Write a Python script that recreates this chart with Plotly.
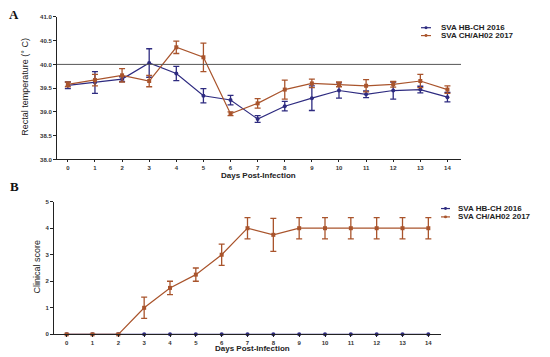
import plotly.graph_objects as go

days = list(range(15))
day_labels = [str(d) for d in days]

# Panel A: rectal temperature
temp_hb = [39.56, 39.62, 39.69, 40.03, 39.81, 39.34, 39.25, 38.85, 39.12, 39.29, 39.45, 39.37, 39.45, 39.47, 39.31]
temp_hb_err = [0.07, 0.23, 0.05, 0.30, 0.15, 0.15, 0.10, 0.07, 0.10, 0.26, 0.16, 0.07, 0.18, 0.07, 0.10]
temp_ah = [39.58, 39.67, 39.77, 39.65, 40.36, 40.15, 38.96, 39.18, 39.47, 39.60, 39.58, 39.55, 39.58, 39.65, 39.47]
temp_ah_err = [0.05, 0.12, 0.14, 0.12, 0.13, 0.30, 0.04, 0.10, 0.20, 0.09, 0.05, 0.13, 0.06, 0.14, 0.08]

# Panel B: clinical score
score_hb = [0] * 15
score_ah = [0, 0, 0, 1, 1.75, 2.25, 3, 4, 3.75, 4, 4, 4, 4, 4, 4]
score_ah_err = [0, 0, 0, 0.4, 0.25, 0.25, 0.4, 0.4, 0.62, 0.4, 0.4, 0.4, 0.4, 0.4, 0.4]

temp_ticks = [38.0, 38.5, 39.0, 39.5, 40.0, 40.5, 41.0]
score_ticks = [0, 1, 2, 3, 4, 5]
threshold = 40.0
series_names = ["SVA HB-CH 2016", "SVA CH/AH02 2017"]

BLUE = "#2E2B80"
RED = "#A9542C"
OFF = 8  # page body margin
W, H = 550 - OFF, 357 - OFF


def px(x):
    return (x - OFF) / W


def py(y):
    return 1 - (y - OFF) / H


fig = go.Figure()


def add_series(x, y, err, color, name, xa, ya, symbol):
    fig.add_trace(go.Scatter(
        x=x, y=y, name=name, mode="lines+markers",
        line=dict(color=color, width=1.2),
        marker=dict(color=color, size=4, symbol=symbol),
        error_y=dict(type="data", array=err, visible=True, color=color,
                     thickness=1.3, width=3) if err else None,
        xaxis=xa, yaxis=ya, cliponaxis=False, showlegend=False,
    ))


add_series(days, temp_hb, temp_hb_err, BLUE, series_names[0], "x", "y", "circle")
add_series(days, temp_ah, temp_ah_err, RED, series_names[1], "x", "y", "square")
add_series(days, score_hb, None, BLUE, series_names[0], "x2", "y2", "circle")
add_series(days, score_ah, score_ah_err, RED, series_names[1], "x2", "y2", "square")

# threshold line across panel A
fig.add_shape(type="line", xref="x domain", yref="y", x0=0, x1=1, y0=threshold, y1=threshold,
              line=dict(color="#555555", width=1))

tickfont = dict(family="Liberation Sans, Arial", size=6, color="#333333")
axis_common = dict(showline=True, linecolor="#222222", linewidth=1, ticks="outside",
                   ticklen=3, tickcolor="#222222", showgrid=False, zeroline=False,
                   tickfont=tickfont)

fig.update_layout(
    width=W, height=H, margin=dict(l=0, r=0, t=0, b=0),
    paper_bgcolor="white", plot_bgcolor="white", showlegend=False,
    xaxis=dict(domain=[px(57), px(461)], range=[-0.4, 14.5], anchor="y",
               tickvals=days, ticktext=[f"<b>{d}</b>" for d in day_labels], **axis_common),
    yaxis=dict(domain=[py(159), py(14)], range=[38, 41], anchor="x",
               tickvals=temp_ticks, ticktext=[f"<b>{t:.1f}</b>" for t in temp_ticks], **axis_common),
    xaxis2=dict(domain=[px(54), px(441)], range=[-0.49, 14.49], anchor="y2",
                tickvals=days, ticktext=[f"<b>{d}</b>" for d in day_labels], **axis_common),
    yaxis2=dict(domain=[py(337), py(202)], range=[0, 5], anchor="x2",
                tickvals=score_ticks, ticktext=[f"<b>{t}</b>" for t in score_ticks], **axis_common),
)
fig.update_xaxes(ticklen=2)

title_font = dict(family="Liberation Sans, Arial", size=8, color="#222222")
ann = []


def note(text, x, y, font, angle=0, xanchor="center"):
    ann.append(dict(text=text, x=px(x), y=py(y), xref="paper", yref="paper",
                    showarrow=False, textangle=angle, font=font,
                    xanchor=xanchor, yanchor="middle"))


note("<b>Days Post-Infection</b>", 258, 175, title_font)
note("<b>Days Post-Infection</b>", 252, 351.5, title_font)
note("Rectal temperature (° C)", 25, 85,
     dict(family="Liberation Sans Narrow, Liberation Sans, Arial", size=9, color="#222222"), -90)
note("Clinical score", 37, 268,
     dict(family="Liberation Sans Narrow, Liberation Sans, Arial", size=9, color="#222222"), -90)
note("<b>A</b>", 14, 12, dict(family="Liberation Serif, Times New Roman", size=13, color="#111111"))
note("<b>B</b>", 14, 187, dict(family="Liberation Serif, Times New Roman", size=13, color="#111111"))

# custom legends
legend_font = dict(family="Liberation Sans, Arial", size=8, color="#222222")
for (x0, x1, tx, ys) in [(421, 431, 439, [25, 33]),
                         (441, 450, 456, [209, 217.5])]:
    for name, color, yy in zip(series_names, [BLUE, RED], ys):
        fig.add_shape(type="line", xref="paper", yref="paper",
                      x0=px(x0), x1=px(x1), y0=py(yy), y1=py(yy),
                      line=dict(color=color, width=1.2))
        fig.add_shape(type="circle", xref="paper", yref="paper",
                      x0=px((x0 + x1) / 2 - 1.5), x1=px((x0 + x1) / 2 + 1.5),
                      y0=py(yy - 1.5), y1=py(yy + 1.5),
                      fillcolor=color, line=dict(color=color, width=0))
        note(f"<b>{name}</b>", tx, yy, legend_font, xanchor="left")

fig.update_layout(annotations=ann)

fig.write_html("out.html")
